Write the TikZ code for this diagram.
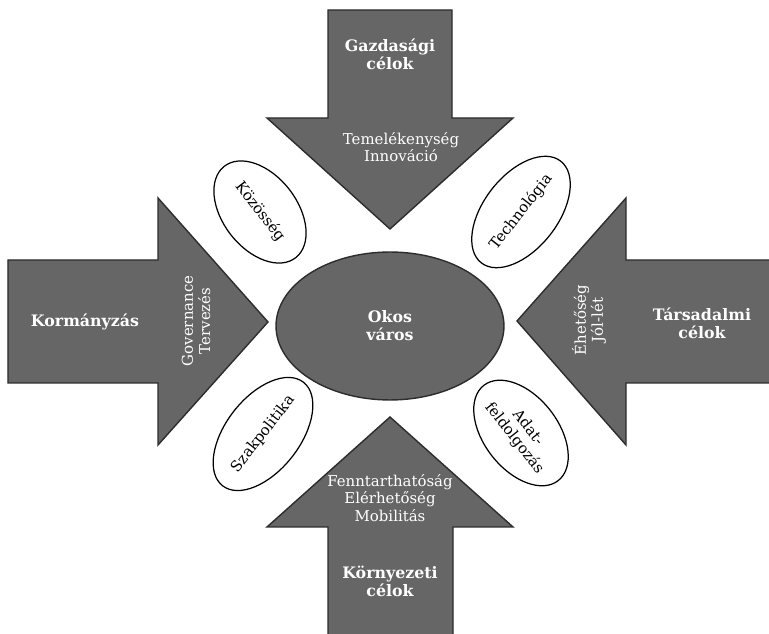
\documentclass[tikz,border=0pt]{standalone}
\usepackage{fontspec}
\setmainfont{DejaVu Serif}
\usetikzlibrary{shapes.geometric}
\definecolor{arrowgray}{RGB}{102,102,102}
\definecolor{edgegray}{RGB}{45,45,45}

\begin{document}
\begin{tikzpicture}[
    x=0.02cm, y=-0.02cm,
    bigarrow/.style={fill=arrowgray, draw=edgegray, line width=0.8pt},
    goal/.style={text=white, font=\bfseries\fontsize{9}{10.2}\selectfont, align=center},
    aim/.style={text=white, font=\fontsize{8.5}{9.8}\selectfont, align=center},
    factor/.style={ellipse, draw, line width=0.7pt, minimum width=2.32cm, minimum height=1.48cm, inner sep=0pt, align=center, font=\fontsize{8.5}{9.8}\selectfont}
]
\clip (0,0) rectangle (769,634);
% the four goal arrows
\draw[bigarrow] (328,10) -- (452,10) -- (452,118) -- (513,118) -- (390,229) -- (267,118) -- (328,118) -- cycle;
\draw[bigarrow] (8,260) -- (158,260) -- (158,198) -- (268,322) -- (158,445) -- (158,383) -- (8,383) -- cycle;
\draw[bigarrow] (780,260) -- (626,260) -- (626,198) -- (517,321) -- (626,445) -- (626,383) -- (780,383) -- cycle;
\draw[bigarrow] (328,645) -- (328,527) -- (267,527) -- (390,417) -- (513,527) -- (453,527) -- (453,645) -- cycle;

% centre
\node[ellipse, fill=arrowgray, draw=edgegray, line width=0.8pt, minimum width=4.56cm, minimum height=2.96cm, goal] (city) at (390,326) {Okos\\város};

% arrow texts
\node[goal] (econ) at (390,54) {Gazdasági\\célok};
\node[aim] (econaims) at (401,147) {Temelékenység\\Innováció};
\node[goal] (gov) at (85,322) {Kormányzás};
\node[aim, rotate=90] (govaims) at (196,321) {Governance\\Tervezés};
\node[goal] (soc) at (702,323) {Társadalmi\\célok};
\node[aim, rotate=90] (socaims) at (589,320) {Éhetőség\\Jól-lét};
\node[aim] (envaims) at (390,498) {Fenntarthatóság\\Elérhetőség\\Mobilitás};
\node[goal] (env) at (390,581) {Környezeti\\célok};

% factors
\node[factor, rotate=-52] (community) at (260,212) {Közösség};
\node[factor, rotate=52] (tech) at (521,212) {Technológia};
\node[factor, rotate=52] (policy) at (263,434) {Szakpolitika};
\node[factor, rotate=-52] (data) at (521,433) {Adat-\\feldolgozás};
\end{tikzpicture}
\end{document}
